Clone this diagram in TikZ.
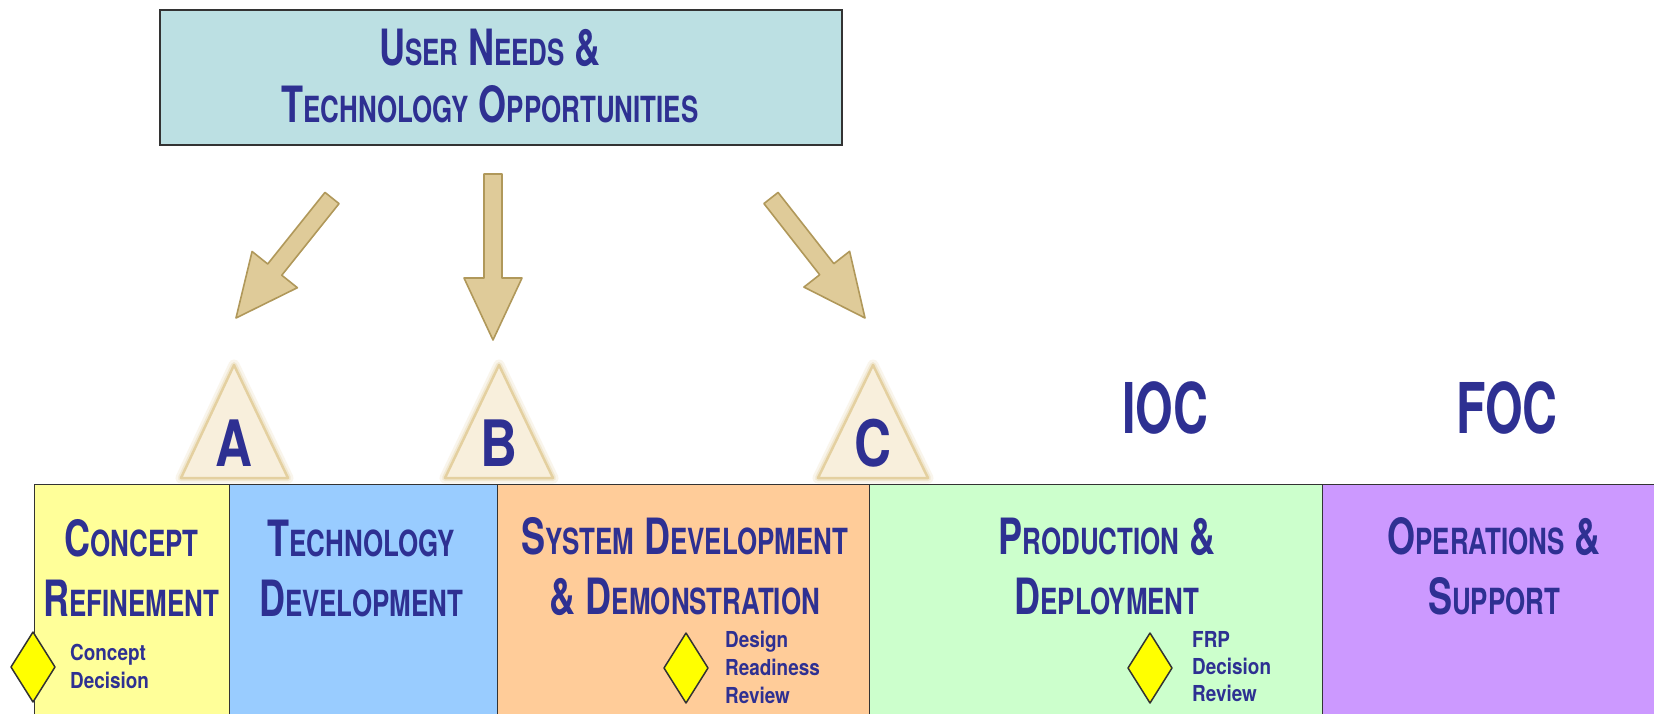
\documentclass[tikz,border=0pt]{standalone}
\usepackage{fontspec}
\setmainfont{TeX Gyre Heros}
\newfontfamily\condf[FakeStretch=0.72]{TeX Gyre Heros}
\newfontfamily\semif[FakeStretch=0.86]{TeX Gyre Heros}
\newfontfamily\gatef[FakeStretch=0.8]{TeX Gyre Heros}
\newfontfamily\milef[FakeStretch=0.69]{TeX Gyre Heros}
\usetikzlibrary{calc}
\definecolor{txtblue}{RGB}{46,48,146}
\definecolor{topfill}{RGB}{188,224,227}
\definecolor{crfill}{RGB}{255,255,153}
\definecolor{tdfill}{RGB}{153,204,255}
\definecolor{sdfill}{RGB}{255,204,153}
\definecolor{pdfill}{RGB}{204,255,204}
\definecolor{osfill}{RGB}{204,153,255}
\definecolor{arrfill}{RGB}{223,203,153}
\definecolor{arrline}{RGB}{176,152,90}
\definecolor{trifill}{RGB}{248,239,220}
\definecolor{triline}{RGB}{228,208,160}
\definecolor{diafill}{RGB}{255,255,0}
\newcommand\SC[2]{#1{\fontsize{36}{40}\selectfont #2}}
\newcommand\blockarrow[2]{%
  \coordinate (ba) at ($(#2)!62pt!(#1)$);
  \draw[arrowst] ($(#1)!9pt!90:(#2)$) -- ($(ba)!9pt!-90:(#1)$) -- ($(ba)!29pt!-90:(#1)$) -- (#2)
    -- ($(ba)!29pt!90:(#1)$) -- ($(ba)!9pt!90:(#1)$) -- ($(#1)!9pt!-90:(#2)$) -- cycle;}
\newcommand\gatetri[3]{% apex x, left x, right x
  \draw[line width=11, draw=triline, opacity=0.2, line join=round] (#1,365) -- (#3,478) -- (#2,478) -- cycle;
  \draw[line width=6, draw=triline, opacity=0.35, line join=round] (#1,365) -- (#3,478) -- (#2,478) -- cycle;
  \draw[line width=2.5, draw=triline, fill=trifill, line join=round] (#1,365) -- (#3,478) -- (#2,478) -- cycle;}
\newcommand\decision[2]{%
  \draw[diast] (#1,#2-35) -- (#1+22,#2) -- (#1,#2+35) -- (#1-22,#2) -- cycle;}
\begin{document}
\begin{tikzpicture}[x=1pt,y=-1pt,
  big/.style={text=txtblue, font=\condf\bfseries\fontsize{50}{60}\selectfont, anchor=base, inner sep=0pt},
  small/.style={text=txtblue, font=\semif\bfseries\fontsize{22}{26}\selectfont, anchor=base west, inner sep=0pt},
  gatelbl/.style={text=txtblue, font=\gatef\bfseries\fontsize{64}{64}\selectfont, anchor=base, inner sep=0pt},
  miles/.style={text=txtblue, font=\milef\bfseries\fontsize{70}{70}\selectfont, anchor=base, inner sep=0pt},
  phase/.style={draw=black!80, line width=1.2, anchor=north west, inner sep=0pt, minimum height=240},
  arrowst/.style={fill=arrfill, draw=arrline, line width=1.6, line join=round},
  diast/.style={fill=diafill, draw=black!80, line width=1.5, line join=round}]
\useasboundingbox (0,0) rectangle (1654,713);
\fill[white] (0,0) rectangle (1654,713);

% top box
\node[draw=black!80, line width=1.5, fill=topfill, minimum width=682, minimum height=135, inner sep=0pt] (need) at (501,77.5) {};
\node[big] (need1) at (490,65) {\SC{U}{SER} \SC{N}{EEDS} \&};
\node[big] (need2) at (490,122) {\SC{T}{ECHNOLOGY} \SC{O}{PPORTUNITIES}};

% arrows
\coordinate (tA) at (332,198); \coordinate (hA) at (236,318);
\coordinate (tB) at (493,174); \coordinate (hB) at (493,340);
\coordinate (tC) at (771,198); \coordinate (hC) at (865,318);
\blockarrow{tA}{hA}
\blockarrow{tB}{hB}
\blockarrow{tC}{hC}

% milestone triangles
\gatetri{234}{181}{288}
\gatetri{499}{445}{553}
\gatetri{873}{818}{928}
\node[gatelbl] (ga) at (234,466) {A};
\node[gatelbl] (gb) at (499,466) {B};
\node[gatelbl] (gc) at (873,466) {C};
\node[miles] (ioc) at (1165,433) {IOC};
\node[miles] (foc) at (1507,433) {FOC};

% phases
\node[phase, fill=crfill, minimum width=195] (cr) at (34,484) {};
\node[phase, fill=tdfill, minimum width=268] (td) at (229,484) {};
\node[phase, fill=sdfill, minimum width=372] (sd) at (497,484) {};
\node[phase, fill=pdfill, minimum width=453] (pd) at (869,484) {};
\node[phase, fill=osfill, minimum width=340] (os) at (1322,484) {};

\node[big] (cr1) at (131.5,556) {\SC{C}{ONCEPT}};
\node[big] (cr2) at (131.5,616) {\SC{R}{EFINEMENT}};
\node[big] (td1) at (361,556) {\SC{T}{ECHNOLOGY}};
\node[big] (td2) at (361,616) {\SC{D}{EVELOPMENT}};
\node[big] (sd1) at (685,554) {\SC{S}{YSTEM} \SC{D}{EVELOPMENT}};
\node[big] (sd2) at (685,614) {\& \SC{D}{EMONSTRATION}};
\node[big] (pd1) at (1107,554) {\SC{P}{RODUCTION} \&};
\node[big] (pd2) at (1107,614) {\SC{D}{EPLOYMENT}};
\node[big] (os1) at (1494,554) {\SC{O}{PERATIONS} \&};
\node[big] (os2) at (1494,614) {\SC{S}{UPPORT}};

% decision points
\decision{33}{667}
\node[small] (cd1) at (70,660) {Concept};
\node[small] (cd2) at (70,688) {Decision};
\decision{686}{668}
\node[small] (dr1) at (725,647) {Design};
\node[small] (dr2) at (725,675) {Readiness};
\node[small] (dr3) at (725,703) {Review};
\decision{1150}{668}
\node[small] (fr1) at (1192,647) {FRP};
\node[small] (fr2) at (1192,674) {Decision};
\node[small] (fr3) at (1192,701) {Review};
\end{tikzpicture}
\end{document}
